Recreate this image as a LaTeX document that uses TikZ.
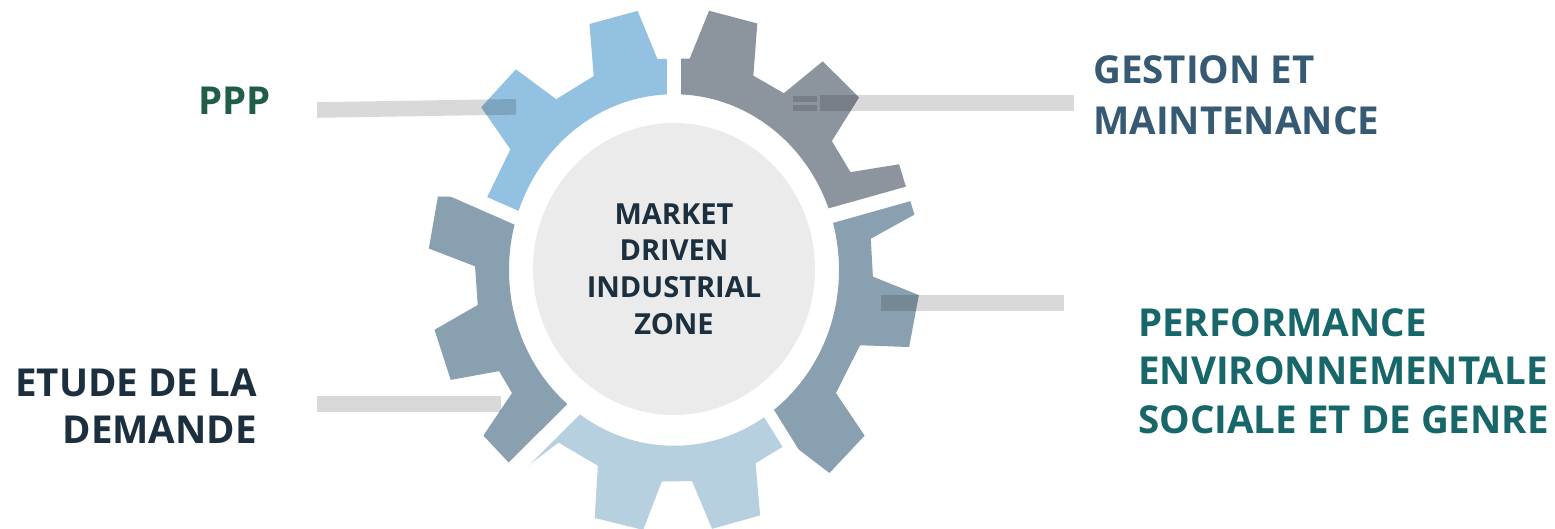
\documentclass[tikz,border=0pt]{standalone}
\usepackage{fontspec}
\setmainfont{Open Sans}

\definecolor{cogblue}{HTML}{93C1E1}
\definecolor{coggrey}{HTML}{8C959D}
\definecolor{cogslate}{HTML}{89A0B0}
\definecolor{coglight}{HTML}{B7D0E0}
\definecolor{hubgrey}{HTML}{EBEBEB}
\definecolor{barcol}{HTML}{D9D9D9}
\definecolor{pppgreen}{HTML}{215E4A}
\definecolor{gestblue}{HTML}{365A73}
\definecolor{perfteal}{HTML}{16666A}
\definecolor{navy}{HTML}{1C2F3E}

% outline of the cog: twelve teeth, hole in the middle
\newcommand{\cogoutline}{(8.5:199) \foreach \t in {18,47,76,104.3,135.8,169.5,199,225,257,284.7,315,348.7} { -- ({\t-9.5}:199) -- ({\t-5.8}:246) -- ({\t+5.8}:246) -- ({\t+9.5}:199) } -- cycle (0,0) circle (165)}

\begin{document}
\begin{tikzpicture}[x=1pt,y=1pt]
\useasboundingbox (0,0) rectangle (1555,528);

\tikzset{barstyle/.style={draw=barcol,line width=15.6,blend mode=multiply}}
\tikzset{lbl/.style={inner sep=0,font=\fontsize{38.5}{48.3}\selectfont\bfseries}}
\tikzset{hubtext/.style={inner sep=0,text=navy,align=center,font=\fontsize{29}{36.7}\selectfont\bfseries}}

\coordinate (hub) at (674,259);

% cog in five coloured pieces
\begin{scope}[shift={(674,258)},yscale=1.065]
\foreach \ia/\oa/\ib/\ob/\col in {18.6/16.7/90/90/coggrey, 90/90/163.6/160.6/cogblue, 163.6/160.6/234.2/228.6/cogslate, 234.2/228.6/305.5/304.5/coglight, 305.5/304.5/378.6/376.7/cogslate}{
  \begin{scope}
  \clip (0,0) -- (\ia:140) -- (\oa:280) arc[start angle=\oa,end angle=\ob,radius=280] -- (\ib:140) -- cycle;
  \fill[\col,even odd rule] \cogoutline;
  \end{scope}
}
\foreach \ia/\oa/\w in {18.6/16.7/15, 90/90/14, 163.6/160.6/14, 234.2/228.6/16, 305.5/304.5/12}
  \draw[white,line width=\w] (\ia:140) -- (\oa:280);
\end{scope}

\fill[hubgrey] (hub) ellipse [x radius=141,y radius=146];

% bars
\coordinate (pppA) at (317,418);
\coordinate (pppB) at (516,421.2);
\coordinate (gestA) at (820,425.1);
\coordinate (gestB) at (1074,425.1);
\coordinate (gestC) at (793,429.1);
\coordinate (gestD) at (817,429.1);
\coordinate (gestE) at (793,420.1);
\coordinate (gestF) at (817,420.1);
\coordinate (perfA) at (881,225.1);
\coordinate (perfB) at (1064,225.1);
\coordinate (etudeA) at (317,124.3);
\coordinate (etudeB) at (501,124.3);

\path (pppA) edge [barstyle] (pppB);
\path (gestA) edge [barstyle] (gestB);
\path (gestC) edge [barstyle,line width=5.7] (gestD);
\path (gestE) edge [barstyle,line width=5.7] (gestF);
\path (perfA) edge [barstyle] (perfB);
\path (etudeA) edge [barstyle,line width=16] (etudeB);

% labels
\node[lbl,text=pppgreen,anchor=north east] (ppp) at (271,440.7) {PPP};
\node[lbl,text=gestblue,anchor=north west,align=left,font=\fontsize{38.5}{51}\selectfont\bfseries] (gestion) at (1093,473) {GESTION ET\\MAINTENANCE};
\node[lbl,text=perfteal,anchor=north west,align=left] (perf) at (1138,219.7) {PERFORMANCE\\ENVIRONNEMENTALE\\SOCIALE ET DE GENRE};
\node[lbl,text=navy,anchor=north east,align=right,font=\fontsize{38.5}{47.5}\selectfont\bfseries] (etude) at (257,159.7) {ETUDE DE LA\\DEMANDE};
\node[hubtext] (zone) at (hub) {MARKET\\DRIVEN\\INDUSTRIAL\\ZONE};
\end{tikzpicture}
\end{document}
